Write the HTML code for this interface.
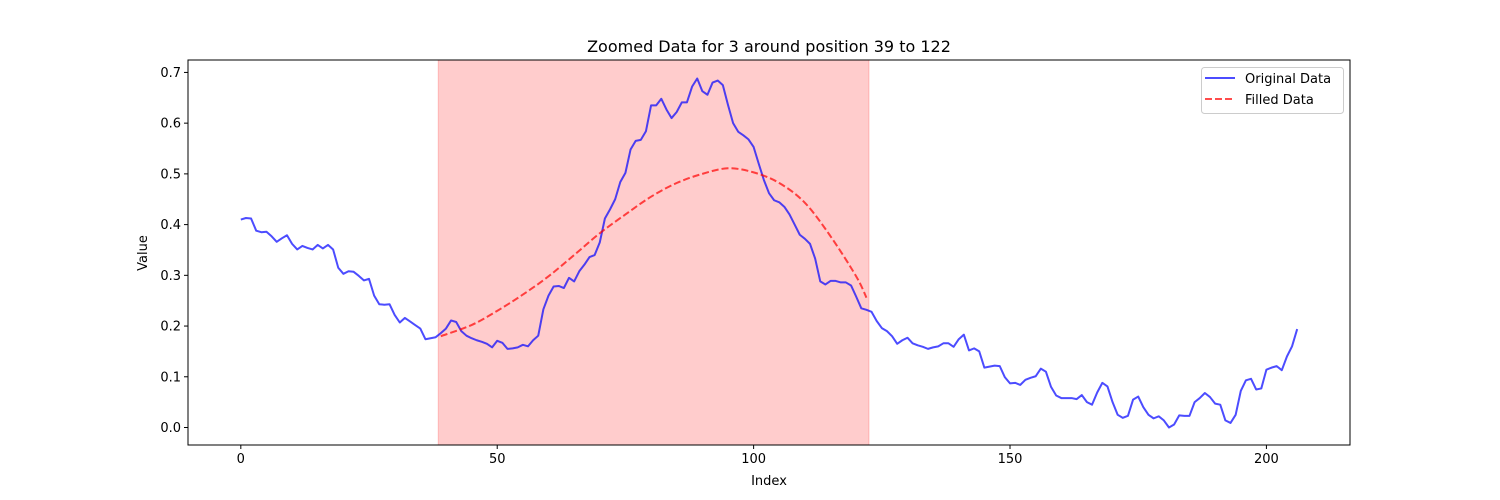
<!DOCTYPE html>
<html><head><meta charset="utf-8"><style>
body{margin:0;background:#fff}
svg{display:block;font-family:"DejaVu Sans","Liberation Sans",sans-serif}
</style></head><body>
<svg id="chart" width="1500" height="500" xmlns="http://www.w3.org/2000/svg"></svg>
<script>
const original = [0.41,0.413,0.412,0.388,0.385,0.386,0.377,0.366,0.373,0.379,0.362,0.351,0.358,0.354,0.351,0.36,0.353,0.36,0.351,0.315,0.303,0.308,0.307,0.299,0.29,0.293,0.26,0.243,0.242,0.243,0.222,0.207,0.216,0.209,0.202,0.195,0.174,0.176,0.178,0.186,0.195,0.211,0.208,0.19,0.181,0.176,0.172,0.169,0.165,0.158,0.171,0.167,0.155,0.156,0.158,0.163,0.16,0.172,0.181,0.233,0.26,0.278,0.279,0.275,0.295,0.288,0.308,0.321,0.336,0.34,0.365,0.412,0.43,0.45,0.484,0.502,0.548,0.565,0.567,0.584,0.635,0.635,0.648,0.627,0.61,0.622,0.641,0.641,0.672,0.688,0.663,0.656,0.68,0.684,0.675,0.636,0.6,0.583,0.576,0.568,0.553,0.52,0.488,0.462,0.448,0.444,0.435,0.42,0.4,0.38,0.372,0.362,0.333,0.288,0.282,0.289,0.289,0.286,0.286,0.28,0.258,0.235,0.232,0.228,0.21,0.196,0.19,0.18,0.165,0.172,0.177,0.166,0.162,0.159,0.155,0.158,0.16,0.166,0.166,0.159,0.174,0.183,0.152,0.156,0.15,0.118,0.12,0.122,0.121,0.099,0.087,0.088,0.084,0.094,0.098,0.101,0.116,0.11,0.08,0.063,0.058,0.058,0.058,0.056,0.064,0.05,0.045,0.069,0.088,0.081,0.05,0.025,0.019,0.023,0.055,0.061,0.04,0.025,0.018,0.022,0.014,0.0,0.006,0.024,0.023,0.023,0.05,0.058,0.068,0.06,0.047,0.045,0.014,0.009,0.025,0.072,0.093,0.096,0.075,0.077,0.114,0.118,0.121,0.113,0.14,0.16,0.194];
const filledX = [39,45,50,55,60,65,70,75,80,85,90,95,100,105,110,115,120,122];
const filledY = [0.18,0.202,0.23,0.262,0.298,0.34,0.383,0.42,0.455,0.482,0.5,0.511,0.503,0.482,0.443,0.377,0.298,0.256];
const xTicks = [0,50,100,150,200];
const yTicks = [0.0,0.1,0.2,0.3,0.4,0.5,0.6,0.7];
const spanRange = [38.5,122.5];

const svg = document.getElementById('chart');
const NS = 'http://www.w3.org/2000/svg';
const L=188,R=1350,T=60,B=445;
const xmin=-10.3,xmax=216.3,ymin=-0.0345,ymax=0.7245;
const xs=v=>L+(v-xmin)/(xmax-xmin)*(R-L);
const ys=v=>B-(v-ymin)/(ymax-ymin)*(B-T);
function mk(tag,attrs,parent){const e=document.createElementNS(NS,tag);for(const k in attrs)e.setAttribute(k,attrs[k]);(parent||svg).appendChild(e);return e;}

const span = mk('rect',{x:xs(spanRange[0]),y:T,width:xs(spanRange[1])-xs(spanRange[0]),height:B-T,fill:'#ff0000','fill-opacity':0.2,stroke:'#ff0000','stroke-opacity':0.2});



let d=original.map((v,i)=>(i?'L':'M')+xs(i).toFixed(2)+','+ys(v).toFixed(2)).join('');
const orig = mk('path',{d:d,fill:'none',stroke:'#0000ff','stroke-opacity':0.7,'stroke-width':2,'stroke-linejoin':'round'});



// smooth Catmull-Rom path through filled knots
const P=filledX.map((x,i)=>[xs(x),ys(filledY[i])]);
let fd='M'+P[0][0]+','+P[0][1];
for(let i=0;i<P.length-1;i++){const p0=P[Math.max(0,i-1)],p1=P[i],p2=P[i+1],p3=P[Math.min(P.length-1,i+2)];
fd+='C'+(p1[0]+(p2[0]-p0[0])/6)+','+(p1[1]+(p2[1]-p0[1])/6)+' '+(p2[0]-(p3[0]-p1[0])/6)+','+(p2[1]-(p3[1]-p1[1])/6)+' '+p2[0]+','+p2[1];}
const fl = mk('path',{d:fd,fill:'none',stroke:'#ff0000','stroke-opacity':0.7,'stroke-width':2,'stroke-dasharray':'7,3'});



const frame = mk('rect',{x:L,y:T,width:R-L,height:B-T,fill:'none',stroke:'#000','stroke-width':1});



xTicks.forEach(t=>{
  const ln=mk('line',{x1:xs(t),x2:xs(t),y1:B,y2:B+4,stroke:'#000'});
  
  
  const tx=mk('text',{x:xs(t),y:B+18,'font-size':13,'text-anchor':'middle'});tx.textContent=t;
  
  
});
yTicks.forEach(t=>{
  const ln=mk('line',{x1:L-4,x2:L,y1:ys(t),y2:ys(t),stroke:'#000'});
  
  
  const tx=mk('text',{x:L-7,y:ys(t)+4.5,'font-size':13,'text-anchor':'end'});tx.textContent=t.toFixed(1);
  
  
});
</script>
<script>
(function(){
const svg=document.getElementById('chart');const NS='http://www.w3.org/2000/svg';
function mk(tag,attrs){const e=document.createElementNS(NS,tag);for(const k in attrs)e.setAttribute(k,attrs[k]);svg.appendChild(e);return e;}
const title=mk('text',{x:769,y:52,'font-size':16,'text-anchor':'middle'});title.textContent='Zoomed Data for 3 around position 39 to 122';


const xl=mk('text',{x:769,y:485,'font-size':13,'text-anchor':'middle'});xl.textContent='Index';


const yl=mk('text',{x:147,y:253,'font-size':13,'text-anchor':'middle',transform:'rotate(-90 147 253)'});yl.textContent='Value';


const lb=mk('rect',{x:1201.5,y:67.5,width:142,height:46,rx:3,fill:'#fff','fill-opacity':0.8,stroke:'#ccc'});


const l1=mk('line',{x1:1205,x2:1235,y1:78,y2:78,stroke:'#0000ff','stroke-opacity':0.7,'stroke-width':2});


const t1=mk('text',{x:1245,y:83,'font-size':13});t1.textContent='Original Data';


const l2=mk('line',{x1:1205,x2:1235,y1:99,y2:99,stroke:'#ff0000','stroke-opacity':0.7,'stroke-width':2,'stroke-dasharray':'7,3'});


const t2=mk('text',{x:1245,y:104,'font-size':13});t2.textContent='Filled Data';


})();
</script>
</body></html>
